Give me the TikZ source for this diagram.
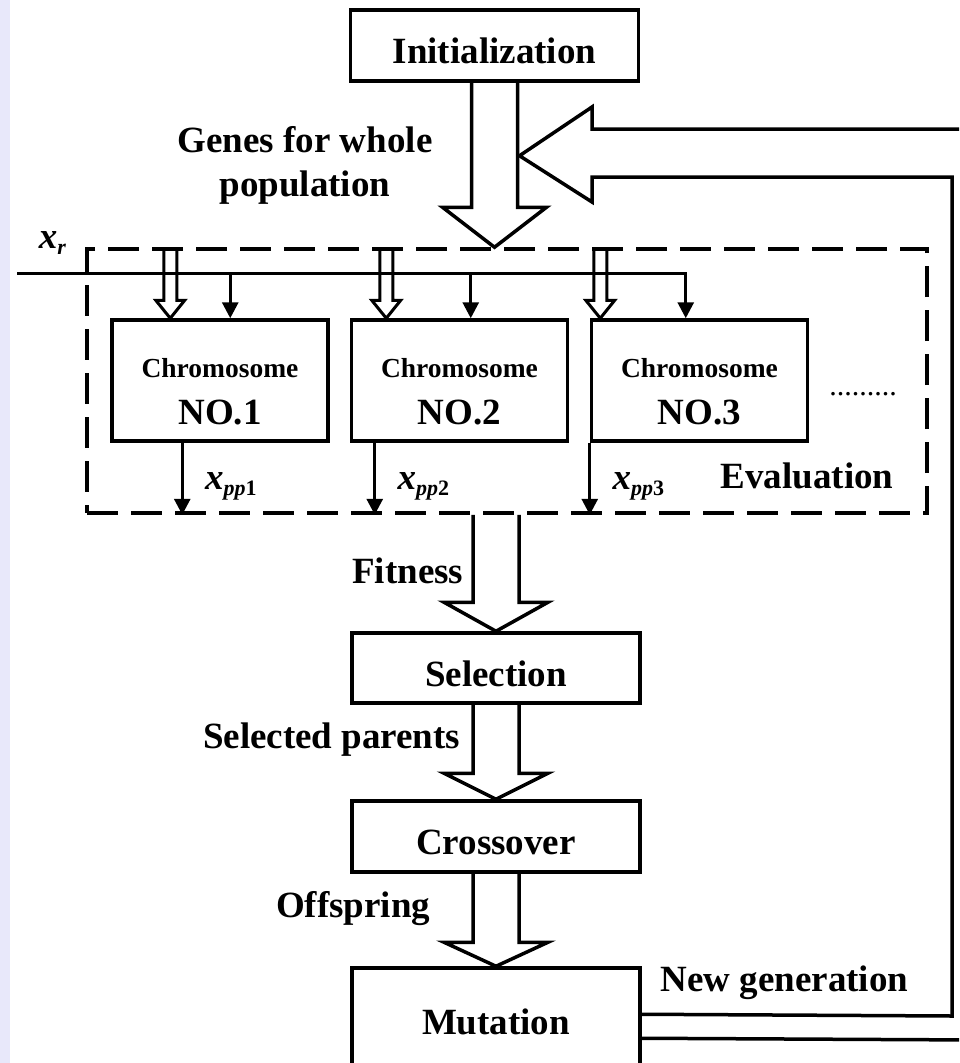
\documentclass[tikz,border=0pt]{standalone}
\usepackage{fontspec}
\setmainfont{Liberation Serif}
\usetikzlibrary{calc,arrows.meta}

\definecolor{lavender}{RGB}{232,232,250}
\newcommand{\labfont}{\fontsize{37}{44}\selectfont\bfseries}
\newcommand{\chromfont}{\fontsize{27.5}{33}\selectfont\bfseries}
\newcommand{\subtxt}[1]{\raisebox{-6pt}{\fontsize{22}{22}\selectfont #1}}

% wide hollow arrow: from, tip, head length
\newcommand{\fatdown}[3]{%
  \draw[fat] ($(#1)+(-23,0)$) -- ($(#2)+(-23,-#3)$) -- ($(#2)+(-52,-#3)$)
    -- (#2) -- ($(#2)+(52,-#3)$) -- ($(#2)+(23,-#3)$) -- ($(#1)+(23,0)$);}
% narrow hollow arrow: from, tip
\newcommand{\twindown}[2]{%
  \draw[twin] ($(#1)+(-6.5,0)$) -- ($(#2)+(-6.5,-18)$) -- ($(#2)+(-14.5,-18)$)
    -- (#2) -- ($(#2)+(14.5,-18)$) -- ($(#2)+(6.5,-18)$) -- ($(#1)+(6.5,0)$);}

\begin{document}
\begin{tikzpicture}[
  x=1pt, y=-1pt, line width=3.5pt,
  box/.style={draw, minimum width=288pt, inner sep=0pt, font=\labfont,
              text height=36pt, text depth=0pt},
  chrom/.style={draw, minimum width=216pt, minimum height=121pt, inner sep=0pt},
  lbl/.style={font=\labfont, inner sep=0pt},
  fat/.style={line join=miter},
  twin/.style={line width=3pt, line join=miter},
  thin/.style={line width=3pt, -{Triangle[length=16pt,width=16pt]}},
  evalframe/.style={draw, dash pattern=on 31pt off 13pt, minimum width=840pt,
                    minimum height=264pt, inner sep=0pt},
]
\useasboundingbox (0,0) rectangle (959,1063);
\clip (0,0) rectangle (959,1063);
\fill[white] (0,0) rectangle (959,1063);
\fill[lavender] (0,0) rectangle (10,1063);

% main chain
\node[box, minimum height=71pt] (init) at (494.5,45.5) {Initialization};
\node[evalframe] (evalbox) at (507,381) {};
\node[box, minimum height=70pt] (sel) at (496,668) {Selection};
\node[box, minimum height=71pt] (cross) at (496,836.5) {Crossover};
\node[box, minimum height=100pt, text height=32pt] (mut) at (496,1018) {Mutation};

% chromosomes
\node[chrom] (c1) at (220,380.5) {};
\node[chrom] (c2) at (459.5,380.5) {};
\node[chrom] (c3) at (699.5,380.5) {};
\node[font=\chromfont, anchor=base] (c1a) at ($(c1.center)+(0,-3.5)$) {Chromosome};
\node[lbl, anchor=base] (c1b) at ($(c1.center)+(0,43.5)$) {NO.1};
\node[font=\chromfont, anchor=base] (c2a) at ($(c2.center)+(0,-3.5)$) {Chromosome};
\node[lbl, anchor=base] (c2b) at ($(c2.center)+(0,43.5)$) {NO.2};
\node[font=\chromfont, anchor=base] (c3a) at ($(c3.center)+(0,-3.5)$) {Chromosome};
\node[lbl, anchor=base] (c3b) at ($(c3.center)+(0,43.5)$) {NO.3};
\node[font=\fontsize{30}{30}\selectfont, anchor=base] (dots) at (863,395) {.........};

% labels
\node[lbl, align=center] (geneslbl) at (305,165) {Genes for whole\\population};
\node[lbl, anchor=base west] (xrlbl) at (37,248) {\textit{x}\subtxt{\textit{r}}};
\node[lbl, anchor=base] (evallbl) at (807,488) {Evaluation};
\node[lbl, anchor=base east] (fitlbl) at (465,583) {Fitness};
\node[lbl, anchor=base east] (parlbl) at (462,748) {Selected parents};
\node[lbl, anchor=base east] (offlbl) at (432,917) {Offspring};
\node[lbl, anchor=base] (newlbl) at (784.5,991) {New generation};

% wide arrows
\coordinate (gtip) at (init.south |- evalbox.north);
\fatdown{init.south}{gtip}{40}
\coordinate (ftop) at (sel.north |- evalbox.south);
\fatdown{ftop}{sel.north}{29}
\fatdown{sel.south}{cross.north}{26}
\fatdown{cross.south}{mut.north}{24}

% feedback loop
\coordinate (fbtip) at ($(init.south)+(25,73)$);
\coordinate (edgetop) at (980,129);
\coordinate (edgebot) at (980,1040);
\coordinate (mutout) at ($(mut.north east)+(0,48)$);
\coordinate (mutout2) at ($(mut.north east)+(0,72)$);
\draw[fat] (edgetop) -- (592,129) -- (592,107) -- (fbtip) -- (592,202)
  -- (592,177) -- (952,177) -- (952,1016) -- (mutout);
\draw (mutout2) -- (edgebot);

% reference input
\coordinate (xrin) at (17,273);
\coordinate (b1) at ($(c1.north west)+(120,0)$);
\coordinate (b2) at ($(c2.north west)+(121,0)$);
\coordinate (b3) at ($(c3.north west)+(96,0)$);
\draw[thin] (xrin) -| (b3);
\draw[thin] (b1 |- xrin) -- (b1);
\draw[thin] (b2 |- xrin) -- (b2);

% genes into chromosomes
\coordinate (t1) at ($(c1.north west)+(60,0)$);
\coordinate (t2) at ($(c2.north west)+(36.5,0)$);
\coordinate (t3) at ($(c3.north west)+(10.5,0)$);
\twindown{t1 |- evalbox.north}{t1}
\twindown{t2 |- evalbox.north}{t2}
\twindown{t3 |- evalbox.north}{t3}

% outputs
\coordinate (o1) at ($(c1.south west)+(72,0)$);
\coordinate (o2) at ($(c2.south west)+(25,0)$);
\coordinate (o3) at (c3.south west);
\draw[thin] (o1) -- (o1 |- evalbox.south);
\draw[thin] (o2) -- (o2 |- evalbox.south);
\draw[thin] (o3) -- (o3 |- evalbox.south);
\node[lbl, anchor=base west] (xpp1) at ($(o1)+(21,47)$) {\textit{x}\subtxt{\textit{pp}1}};
\node[lbl, anchor=base west] (xpp2) at ($(o2)+(21,47)$) {\textit{x}\subtxt{\textit{pp}2}};
\node[lbl, anchor=base west] (xpp3) at ($(o3)+(21,47)$) {\textit{x}\subtxt{\textit{pp}3}};

\end{tikzpicture}
\end{document}
